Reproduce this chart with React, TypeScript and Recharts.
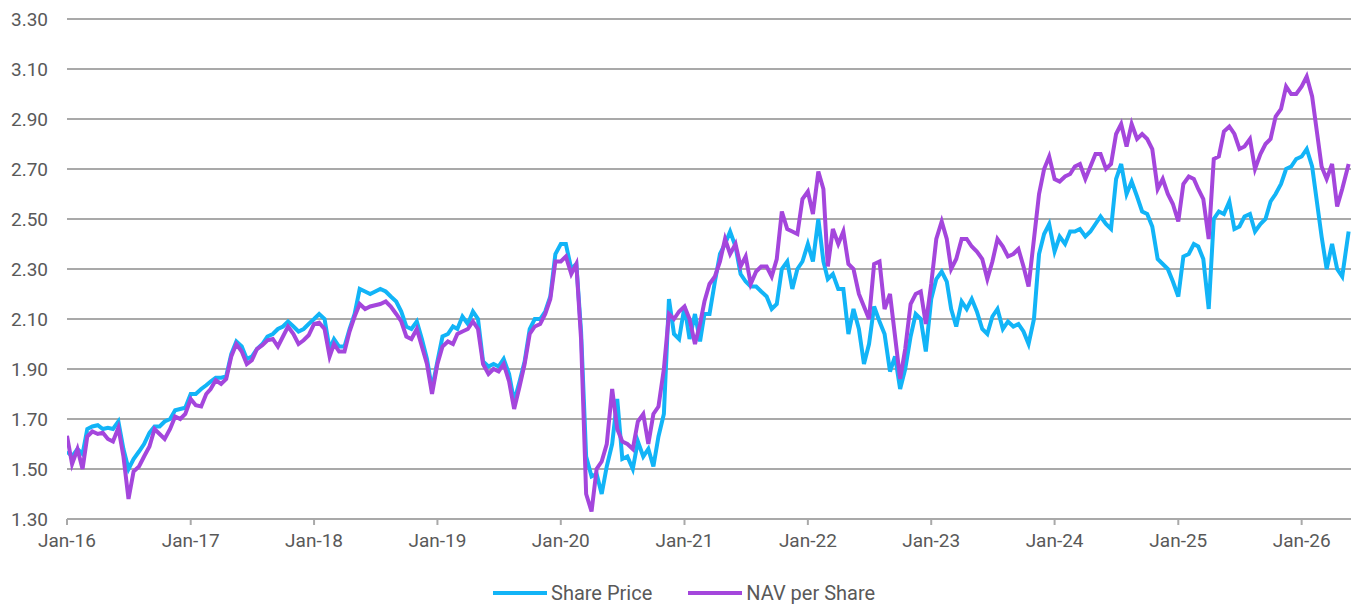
import { CartesianGrid, Line, LineChart, XAxis, YAxis } from "recharts"

const dates = [
  "2016-01-01", "2016-01-16", "2016-02-01", "2016-02-16", "2016-03-01", "2016-03-16", "2016-04-01", "2016-04-16", "2016-05-01", "2016-05-16", "2016-06-01", "2016-06-16",
  "2016-07-01", "2016-07-16", "2016-08-01", "2016-08-16", "2016-09-01", "2016-09-16", "2016-10-01", "2016-10-16", "2016-11-01", "2016-11-16", "2016-12-01", "2016-12-16",
  "2017-01-01", "2017-01-16", "2017-02-01", "2017-02-16", "2017-03-01", "2017-03-16", "2017-04-01", "2017-04-16", "2017-05-01", "2017-05-16", "2017-06-01", "2017-06-16",
  "2017-07-01", "2017-07-16", "2017-08-01", "2017-08-16", "2017-09-01", "2017-09-16", "2017-10-01", "2017-10-16", "2017-11-01", "2017-11-16", "2017-12-01", "2017-12-16",
  "2018-01-01", "2018-01-16", "2018-02-01", "2018-02-16", "2018-03-01", "2018-03-16", "2018-04-01", "2018-04-16", "2018-05-01", "2018-05-16", "2018-06-01", "2018-06-16",
  "2018-07-01", "2018-07-16", "2018-08-01", "2018-08-16", "2018-09-01", "2018-09-16", "2018-10-01", "2018-10-16", "2018-11-01", "2018-11-16", "2018-12-01", "2018-12-16",
  "2019-01-01", "2019-01-16", "2019-02-01", "2019-02-16", "2019-03-01", "2019-03-16", "2019-04-01", "2019-04-16", "2019-05-01", "2019-05-16", "2019-06-01", "2019-06-16",
  "2019-07-01", "2019-07-16", "2019-08-01", "2019-08-16", "2019-09-01", "2019-09-16", "2019-10-01", "2019-10-16", "2019-11-01", "2019-11-16", "2019-12-01", "2019-12-16",
  "2020-01-01", "2020-01-16", "2020-02-01", "2020-02-16", "2020-03-01", "2020-03-16", "2020-04-01", "2020-04-16", "2020-05-01", "2020-05-16", "2020-06-01", "2020-06-16",
  "2020-07-01", "2020-07-16", "2020-08-01", "2020-08-16", "2020-09-01", "2020-09-16", "2020-10-01", "2020-10-16", "2020-11-01", "2020-11-16", "2020-12-01", "2020-12-16",
  "2021-01-01", "2021-01-16", "2021-02-01", "2021-02-16", "2021-03-01", "2021-03-16", "2021-04-01", "2021-04-16", "2021-05-01", "2021-05-16", "2021-06-01", "2021-06-16",
  "2021-07-01", "2021-07-16", "2021-08-01", "2021-08-16", "2021-09-01", "2021-09-16", "2021-10-01", "2021-10-16", "2021-11-01", "2021-11-16", "2021-12-01", "2021-12-16",
  "2022-01-01", "2022-01-16", "2022-02-01", "2022-02-16", "2022-03-01", "2022-03-16", "2022-04-01", "2022-04-16", "2022-05-01", "2022-05-16", "2022-06-01", "2022-06-16",
  "2022-07-01", "2022-07-16", "2022-08-01", "2022-08-16", "2022-09-01", "2022-09-16", "2022-10-01", "2022-10-16", "2022-11-01", "2022-11-16", "2022-12-01", "2022-12-16",
  "2023-01-01", "2023-01-16", "2023-02-01", "2023-02-16", "2023-03-01", "2023-03-16", "2023-04-01", "2023-04-16", "2023-05-01", "2023-05-16", "2023-06-01", "2023-06-16",
  "2023-07-01", "2023-07-16", "2023-08-01", "2023-08-16", "2023-09-01", "2023-09-16", "2023-10-01", "2023-10-16", "2023-11-01", "2023-11-16", "2023-12-01", "2023-12-16",
  "2024-01-01", "2024-01-16", "2024-02-01", "2024-02-16", "2024-03-01", "2024-03-16", "2024-04-01", "2024-04-16", "2024-05-01", "2024-05-16", "2024-06-01", "2024-06-16",
  "2024-07-01", "2024-07-16", "2024-08-01", "2024-08-16", "2024-09-01", "2024-09-16", "2024-10-01", "2024-10-16", "2024-11-01", "2024-11-16", "2024-12-01", "2024-12-16",
  "2025-01-01", "2025-01-16", "2025-02-01", "2025-02-16", "2025-03-01", "2025-03-16", "2025-04-01", "2025-04-16", "2025-05-01", "2025-05-16", "2025-06-01", "2025-06-16",
  "2025-07-01", "2025-07-16", "2025-08-01", "2025-08-16", "2025-09-01", "2025-09-16", "2025-10-01", "2025-10-16", "2025-11-01", "2025-11-16", "2025-12-01", "2025-12-16",
  "2026-01-01", "2026-01-16", "2026-02-01", "2026-02-16", "2026-03-01", "2026-03-16", "2026-04-01", "2026-04-16", "2026-05-01", "2026-05-20",
]

const sharePrice = [
  1.57, 1.55, 1.58, 1.56, 1.66, 1.67, 1.675, 1.66, 1.665, 1.66, 1.69, 1.58, 1.5, 1.54, 1.57, 1.6, 1.645, 1.67, 1.67, 1.69, 1.7, 1.735, 1.74, 1.745,
  1.8, 1.8, 1.82, 1.835, 1.85, 1.865, 1.865, 1.87, 1.96, 2.01, 1.99, 1.94, 1.95, 1.98, 2.0, 2.03, 2.04, 2.06, 2.07, 2.09, 2.07, 2.05, 2.06, 2.08,
  2.1, 2.12, 2.1, 1.98, 2.02, 1.99, 1.99, 2.06, 2.12, 2.22, 2.21, 2.2, 2.21, 2.22, 2.21, 2.19, 2.17, 2.13, 2.07, 2.06, 2.09, 2.02, 1.94, 1.82,
  1.93, 2.03, 2.04, 2.07, 2.06, 2.11, 2.08, 2.13, 2.1, 1.93, 1.91, 1.92, 1.91, 1.94, 1.88, 1.77, 1.85, 1.93, 2.06, 2.1, 2.1, 2.13, 2.19, 2.36,
  2.4, 2.4, 2.3, 2.32, 2.05, 1.55, 1.47, 1.48, 1.4, 1.51, 1.6, 1.78, 1.54, 1.55, 1.5, 1.61, 1.55, 1.58, 1.51, 1.63, 1.72, 2.18, 2.04, 2.02,
  2.15, 2.02, 2.12, 2.01, 2.12, 2.12, 2.25, 2.36, 2.4, 2.45, 2.39, 2.28, 2.25, 2.23, 2.23, 2.21, 2.19, 2.14, 2.16, 2.3, 2.33, 2.22, 2.3, 2.33,
  2.4, 2.33, 2.5, 2.33, 2.26, 2.28, 2.22, 2.22, 2.04, 2.14, 2.06, 1.92, 2.0, 2.15, 2.09, 2.04, 1.89, 1.95, 1.82, 1.9, 2.03, 2.12, 2.1, 1.97,
  2.18, 2.26, 2.29, 2.25, 2.14, 2.07, 2.17, 2.14, 2.18, 2.13, 2.06, 2.04, 2.11, 2.14, 2.06, 2.09, 2.07, 2.08, 2.05, 2.0, 2.1, 2.36, 2.44, 2.48,
  2.37, 2.43, 2.4, 2.45, 2.45, 2.46, 2.43, 2.45, 2.48, 2.51, 2.48, 2.46, 2.66, 2.72, 2.6, 2.65, 2.59, 2.53, 2.52, 2.47, 2.34, 2.32, 2.3, 2.25,
  2.19, 2.35, 2.36, 2.4, 2.39, 2.34, 2.14, 2.5, 2.53, 2.52, 2.57, 2.46, 2.47, 2.51, 2.52, 2.45, 2.48, 2.5, 2.57, 2.6, 2.64, 2.7, 2.71, 2.74,
  2.75, 2.78, 2.71, 2.56, 2.43, 2.3, 2.4, 2.3, 2.27, 2.45,
]

const navPerShare = [
  1.633, 1.52, 1.58, 1.5, 1.63, 1.65, 1.64, 1.645, 1.62, 1.61, 1.665, 1.55, 1.38, 1.49, 1.51, 1.55, 1.59, 1.66, 1.64, 1.62, 1.66, 1.71, 1.7, 1.72,
  1.78, 1.755, 1.75, 1.8, 1.82, 1.855, 1.84, 1.86, 1.95, 2.0, 1.97, 1.92, 1.935, 1.98, 1.995, 2.015, 2.02, 1.99, 2.03, 2.07, 2.04, 2.0, 2.015, 2.035,
  2.08, 2.085, 2.06, 1.95, 2.0, 1.97, 1.97, 2.05, 2.11, 2.16, 2.14, 2.15, 2.155, 2.16, 2.17, 2.15, 2.12, 2.09, 2.03, 2.02, 2.06, 1.99, 1.92, 1.8,
  1.92, 1.99, 2.01, 2.0, 2.04, 2.05, 2.06, 2.09, 2.06, 1.92, 1.88, 1.9, 1.89, 1.92, 1.85, 1.74, 1.83, 1.92, 2.04, 2.07, 2.08, 2.12, 2.18, 2.33,
  2.33, 2.35, 2.28, 2.32, 2.02, 1.4, 1.33, 1.5, 1.53, 1.6, 1.82, 1.66, 1.61, 1.6, 1.58, 1.69, 1.72, 1.6, 1.72, 1.75, 1.9, 2.12, 2.1, 2.13,
  2.15, 2.1, 2.0, 2.08, 2.17, 2.24, 2.27, 2.33, 2.42, 2.36, 2.4, 2.31, 2.35, 2.24, 2.29, 2.31, 2.31, 2.27, 2.34, 2.53, 2.46, 2.45, 2.44, 2.58,
  2.61, 2.52, 2.69, 2.62, 2.31, 2.46, 2.4, 2.45, 2.32, 2.3, 2.2, 2.15, 2.1, 2.32, 2.33, 2.14, 2.2, 2.03, 1.86, 1.98, 2.16, 2.2, 2.21, 2.08,
  2.24, 2.42, 2.49, 2.42, 2.3, 2.34, 2.42, 2.42, 2.39, 2.37, 2.34, 2.26, 2.33, 2.42, 2.39, 2.35, 2.36, 2.38, 2.31, 2.23, 2.42, 2.6, 2.7, 2.75,
  2.66, 2.65, 2.67, 2.68, 2.71, 2.72, 2.66, 2.71, 2.76, 2.76, 2.7, 2.72, 2.84, 2.88, 2.79, 2.88, 2.82, 2.84, 2.82, 2.78, 2.62, 2.66, 2.6, 2.56,
  2.49, 2.64, 2.67, 2.66, 2.62, 2.58, 2.42, 2.74, 2.75, 2.85, 2.87, 2.84, 2.78, 2.79, 2.82, 2.7, 2.76, 2.8, 2.82, 2.91, 2.94, 3.03, 3.0, 3.0,
  3.03, 3.07, 2.99, 2.84, 2.71, 2.66, 2.72, 2.55, 2.62, 2.72,
]

const tickDates = [
  "2016-01-01", "2017-01-01", "2018-01-01", "2019-01-01", "2020-01-01", "2021-01-01",
  "2022-01-01", "2023-01-01", "2024-01-01", "2025-01-01", "2026-01-01",
]
const tickLabels = ["Jan-16", "Jan-17", "Jan-18", "Jan-19", "Jan-20", "Jan-21", "Jan-22", "Jan-23", "Jan-24", "Jan-25", "Jan-26"]
const yTicks = [1.3, 1.5, 1.7, 1.9, 2.1, 2.3, 2.5, 2.7, 2.9, 3.1, 3.3]

const BLUE = "#12b4f7"
const PURPLE = "#a446dc"
const TEXT = "#595959"
const GRID = "#a9a9a9"

export default function App() {
  const chartData = dates.map((d, i) => ({
    t: Date.parse(d),
    sharePrice: sharePrice[i],
    nav: navPerShare[i],
  }))
  const xTicks = tickDates.map((d) => Date.parse(d))
  const labelFor = (v: number) => {
    const idx = xTicks.indexOf(v)
    return idx >= 0 ? tickLabels[idx] : ""
  }

  const font = { fontFamily: "Roboto", fontSize: 19, fill: TEXT }

  return (
    <div style={{ position: "absolute", left: 0, top: 0, width: 1351, height: 608, overflow: "hidden", fontFamily: "Roboto" }}>
      <LineChart width={1351} height={608} data={chartData} margin={{ top: 19, right: 0, bottom: 49, left: 0 }}>
        <CartesianGrid vertical={false} stroke={GRID} strokeWidth={2} />
        <XAxis
          dataKey="t"
          type="number"
          domain={[Date.parse("2016-01-01"), Date.parse("2026-05-27")]}
          allowDataOverflow
          ticks={xTicks}
          tickFormatter={labelFor}
          tick={font}
          stroke={GRID}
          strokeWidth={2}
          tickSize={6}
          tickMargin={9}
          height={40}
          interval={0}
        />
        <YAxis
          domain={[1.3, 3.3]}
          ticks={yTicks}
          tickFormatter={(v: number) => v.toFixed(2)}
          tick={font}
          axisLine={false}
          tickLine={false}
          tickMargin={13}
          width={67}
          interval={0}
        />
        <Line type="linear" dataKey="sharePrice" name="Share Price" stroke={BLUE} strokeWidth={4} dot={false} isAnimationActive={false} />
        <Line type="linear" dataKey="nav" name="NAV per Share" stroke={PURPLE} strokeWidth={4} dot={false} isAnimationActive={false} />
      </LineChart>
      <div style={{ position: "absolute", top: 581, left: 493, display: "flex", alignItems: "center", fontSize: 20, color: TEXT, lineHeight: "24px" }}>
        <span style={{ display: "inline-block", width: 54, height: 4, background: BLUE, marginRight: 4 }} />
        <span>Share Price</span>
        <span style={{ display: "inline-block", width: 54, height: 4, background: PURPLE, marginLeft: 36, marginRight: 4 }} />
        <span>NAV per Share</span>
      </div>
    </div>
  )
}
